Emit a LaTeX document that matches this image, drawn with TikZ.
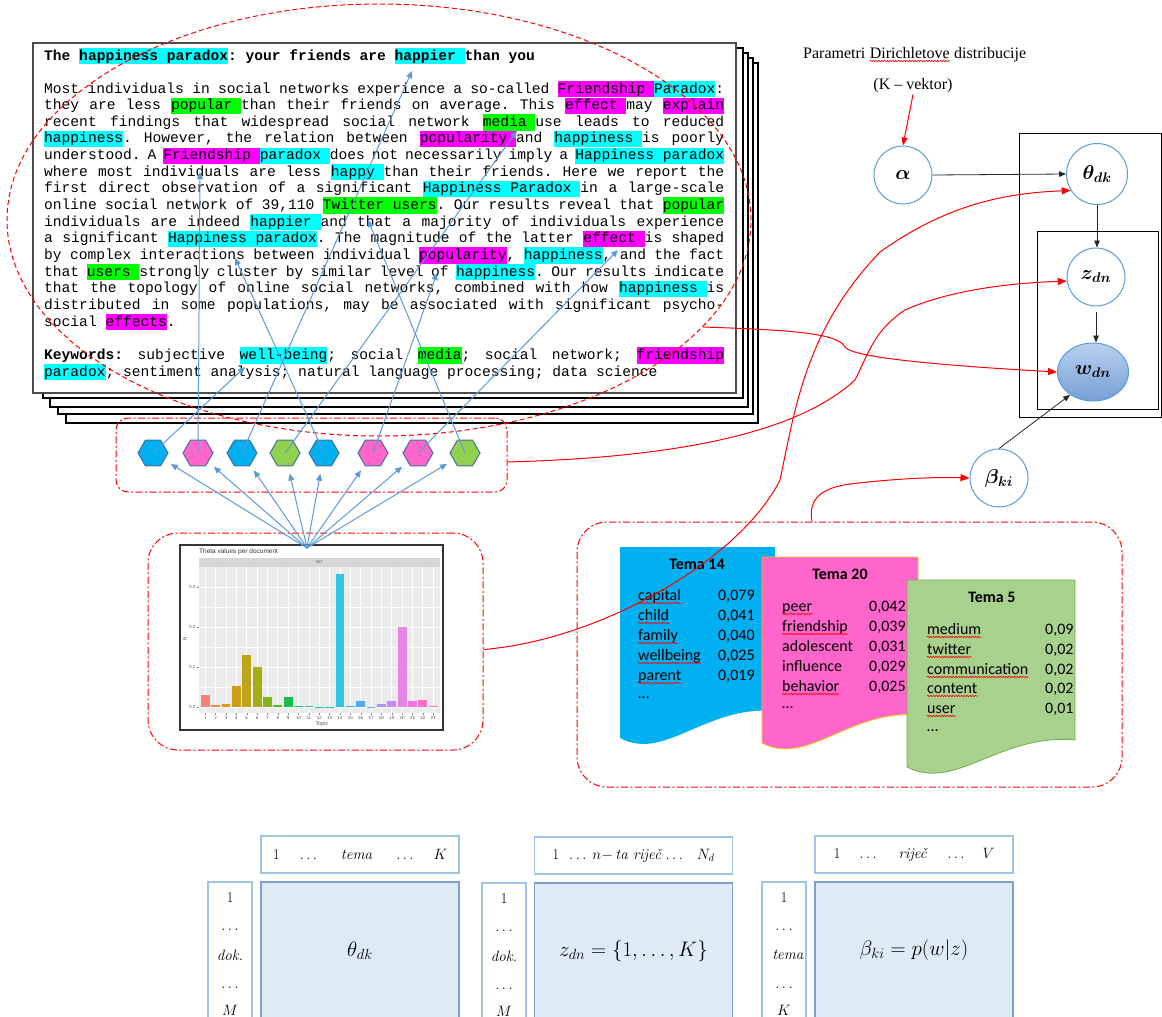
\RequirePackage{fix-cm}
\documentclass[tikz,border=0pt]{standalone}
\usepackage{fontspec}
\usepackage{amsmath,bm}
\usetikzlibrary{shapes.geometric,arrows.meta,decorations.pathmorphing}
\setmonofont{Liberation Mono}
\newfontfamily\carl{Carlito}
\newfontfamily\tms{Liberation Serif}
\newfontfamily\ars{Liberation Sans}
\definecolor{hcy}{HTML}{00FFFF}
\definecolor{hmg}{HTML}{FF00FF}
\definecolor{hgr}{HTML}{00FF00}
\definecolor{hexb}{HTML}{00B0F0}
\definecolor{hexp}{HTML}{FF66CC}
\definecolor{hexg}{HTML}{92D050}
\definecolor{hexe}{HTML}{41719C}
\definecolor{arb}{HTML}{5B9BD5}
\definecolor{t14}{HTML}{00B0F0}
\definecolor{t20}{HTML}{FF66CC}
\definecolor{t20e}{HTML}{FFC000}
\definecolor{t5}{HTML}{A9D18E}
\definecolor{t5e}{HTML}{70AD47}
\definecolor{mfill}{HTML}{DEEBF7}
\definecolor{medge}{HTML}{7F9FCF}
\definecolor{ledge}{HTML}{9DC3E6}
\definecolor{cbord}{HTML}{5B9BD5}
\definecolor{wtop}{HTML}{B8D0EE}
\definecolor{wbot}{HTML}{779FD6}
\definecolor{b1}{HTML}{F8766D}\definecolor{b2}{HTML}{ED813E}\definecolor{b3}{HTML}{DE8C00}
\definecolor{b4}{HTML}{CD9600}\definecolor{b5}{HTML}{B79F00}\definecolor{b6}{HTML}{9DA700}
\definecolor{b7}{HTML}{7CAE00}\definecolor{b8}{HTML}{49B500}\definecolor{b9}{HTML}{00BA38}
\definecolor{b10}{HTML}{00BE67}\definecolor{b11}{HTML}{00C08B}\definecolor{b12}{HTML}{00C1AA}
\definecolor{b13}{HTML}{00BFC4}\definecolor{b14}{HTML}{1FBFE6}\definecolor{b15}{HTML}{00B6EB}
\definecolor{b16}{HTML}{3FA6F5}\definecolor{b17}{HTML}{619CFF}\definecolor{b18}{HTML}{A58AFF}
\definecolor{b19}{HTML}{C77CFF}\definecolor{b20}{HTML}{E57CE6}\definecolor{b21}{HTML}{F564E3}
\definecolor{b22}{HTML}{FF61C3}\definecolor{b23}{HTML}{FF67A4}
\newcommand\hl[2]{\setbox0\hbox{#2}\rlap{\color{#1}\rule[-4.2pt]{\wd0}{16.3pt}}\box0}
\newcommand\jl[1]{\hbox to 680pt{\spaceskip=8.76pt plus 10pt minus 2pt\relax#1}}
\newcommand\trow[6]{\node[tw] (#1w) at (#2,#4) {#5};\node[tw] (#1n) at (#3,#4) {#6};}
\newcommand\spl[1]{\draw[spell] ([yshift=-3pt]#1.base west) -- ([yshift=-3pt]#1.base east);}
\tikzset{
  tl/.style={anchor=base west, inner sep=0, font=\fontsize{14.6}{16.65}\selectfont\ttfamily},
  tw/.style={anchor=base west, inner sep=0, font=\carl\fontsize{16}{19}\selectfont},
  ttl/.style={anchor=base, inner sep=0, font=\carl\bfseries\fontsize{16}{19}\selectfont},
  spell/.style={draw=red, line width=0.6pt, decorate, decoration={snake, amplitude=0.7pt, segment length=2.8pt}},
  hexa/.style={regular polygon, regular polygon sides=6, minimum size=30pt, draw=hexe, line width=1pt, inner sep=0},
  barr/.style={draw=arb, line width=1pt, -{Triangle[length=7pt,width=6pt]}},
  rarr/.style={draw=red, line width=1pt, -{Triangle[length=9pt,width=7pt]}},
  barrow/.style={draw=black!85, line width=0.8pt, -{Triangle[length=7pt,width=5.5pt]}},
  ddot/.style={draw=red, line width=1pt, dash pattern=on 7pt off 2.5pt on 2pt off 2.5pt, rounded corners=#1},
  pnode/.style={circle, draw=cbord, line width=1pt, fill=white, minimum size=58pt, inner sep=0, font=\fontsize{20}{24}\selectfont},
  hdr/.style={draw=ledge, line width=1.4pt, fill=white, minimum width=198pt, minimum height=37pt, inner sep=0, font=\fontsize{15}{18}\selectfont},
  mcol/.style={draw=ledge, line width=1.4pt, fill=white, minimum width=44pt, minimum height=137pt, inner sep=0},
  mmain/.style={draw=medge, line width=1.2pt, fill=mfill, minimum width=198pt, minimum height=137pt, inner sep=0, font=\fontsize{21}{25}\selectfont},
  ctx/.style={inner sep=0, font=\fontsize{15}{18}\selectfont},
  sm/.style={inner sep=0, font=\ars\fontsize{4.5}{5}\selectfont, text=black!65}
}
\begin{document}
\frenchspacing
\begin{tikzpicture}[x=1pt,y=-1pt]
\useasboundingbox (0,0) rectangle (1162,1017);
\clip (0,0) rectangle (1162,1017);
% ---------- stacked pages
\draw[black, line width=1.2pt, fill=white] (66,63) rectangle (758,423);
\draw[black, line width=1.2pt, fill=white] (58,58) rectangle (753,414);
\draw[black, line width=1.2pt, fill=white] (50,53) rectangle (748,407);
\draw[black, line width=1.2pt, fill=white] (43,48) rectangle (743,398);
\draw[black!70, line width=1.6pt, fill=white] (33,43) rectangle (736,393);
% ---------- text
\node[tl] (l0) at (44,60) {\bfseries The \hl{hcy}{happiness paradox}: your friends are \hl{hcy}{happier }than you};
\node[tl] (l1) at (44,93) {\jl{Most individuals in social networks experience a so-called \hl{hmg}{Friendship }\hl{hcy}{Paradox}:}};
\node[tl] (l2) at (44,109.65) {\jl{they are less \hl{hgr}{popular }than their friends on average. This \hl{hmg}{effect }may \hl{hmg}{explain}}};
\node[tl] (l3) at (44,126.3) {\jl{recent findings that widespread social network \hl{hgr}{media }use leads to reduced}};
\node[tl] (l4) at (44,142.95) {\jl{\hl{hcy}{happiness}. However, the relation between \hl{hmg}{popularity }and \hl{hcy}{happiness }is poorly}};
\node[tl] (l5) at (44,159.6) {\jl{understood. A \hl{hmg}{Friendship }\hl{hcy}{paradox }does not necessarily imply a \hl{hcy}{Happiness paradox}}};
\node[tl] (l6) at (44,176.25) {\jl{where most individuals are less \hl{hcy}{happy }than their friends. Here we report the}};
\node[tl] (l7) at (44,192.9) {\jl{first direct observation of a significant \hl{hcy}{Happiness Paradox }in a large-scale}};
\node[tl] (l8) at (44,209.55) {\jl{online social network of 39,110 \hl{hgr}{Twitter users}. Our results reveal that \hl{hgr}{popular}}};
\node[tl] (l9) at (44,226.2) {\jl{individuals are indeed \hl{hcy}{happier }and that a majority of individuals experience}};
\node[tl] (l10) at (44,242.85) {\jl{a significant \hl{hcy}{Happiness paradox}. The magnitude of the latter \hl{hmg}{effect }is shaped}};
\node[tl] (l11) at (44,259.5) {\jl{by complex interactions between individual \hl{hmg}{popularity}, \hl{hcy}{happiness}, and the fact}};
\node[tl] (l12) at (44,276.15) {\jl{that \hl{hgr}{users }strongly cluster by similar level of \hl{hcy}{happiness}. Our results indicate}};
\node[tl] (l13) at (44,292.8) {\jl{that the topology of online social networks, combined with how \hl{hcy}{happiness }is}};
\node[tl] (l14) at (44,309.45) {\jl{distributed in some populations, may be associated with significant psycho-}};
\node[tl] (l15) at (44,326.1) {social \hl{hmg}{effects}.};
\node[tl] (l16) at (44,359.4) {\jl{\textbf{Keywords:} subjective \hl{hcy}{well-being}; social \hl{hgr}{media}; social network; \hl{hmg}{friendship}}};
\node[tl] (l17) at (44,376.05) {\hl{hcy}{paradox}; sentiment analysis; natural language processing; data science};
% ---------- red dashed ellipse
\draw[red, line width=1pt, dash pattern=on 5pt off 3pt] (379,220) ellipse [x radius=372pt, y radius=216pt];
% ---------- hexagons
\node[ddot=12pt, minimum width=391pt, minimum height=74pt, inner sep=0] (hrect) at (311.5,455) {};
\foreach \n/\x/\c in {h1/153/hexb, h2/198/hexp, h3/242/hexb, h4/285/hexg, h5/324/hexb, h6/373/hexp, h7/418/hexp, h8/465/hexg}
  \node[hexa, fill=\c] (\n) at (\x,453) {};
\coordinate (t1) at (245,367);
\coordinate (t2) at (200,172);
\coordinate (t3) at (412,71);
\coordinate (t4) at (517,131);
\coordinate (t5) at (235,258);
\coordinate (t6) at (437,273);
\coordinate (t7) at (618,250);
\coordinate (t8) at (368,220);
\draw[barr] (h1.center) -- (t1);
\draw[barr] (h2.center) -- (t2);
\draw[barr] (h3.center) -- (t3);
\draw[barr] (h4.center) -- (t4);
\draw[barr] (h5.center) -- (t5);
\draw[barr] (h6.center) -- (t6);
\draw[barr] (h7.center) -- (t7);
\draw[barr] (h8.center) -- (t8);
% ---------- chart
\node[ddot=30pt, minimum width=335pt, minimum height=217pt, inner sep=0] (chrt) at (315.5,641.5) {};
\node[draw=black!80, line width=1.3pt, fill=white, minimum width=263pt, minimum height=185pt, inner sep=0] (chart) at (311.5,637.5) {};
\node[anchor=west, inner sep=0, font=\ars\fontsize{6.5}{7}\selectfont, text=black!80] (cttl) at (199,551.5) {Theta values per document};
\fill[black!16] (199,557.5) rectangle (440,566.5);
\node[sm, font=\ars\fontsize{4}{5}\selectfont] (cstrip) at (319.5,562) {987};
\fill[black!8] (199,567) rectangle (440,713);
\foreach \yy in {607,647,687} \draw[white, line width=0.3pt] (199,\yy) -- (440,\yy);
\foreach \yy in {587,627,667,707} \draw[white, line width=0.8pt] (199,\yy) -- (440,\yy);
\foreach \i in {1,...,23} \draw[white, line width=0.8pt] ({205.3+(\i-1)*10.36},567) -- ({205.3+(\i-1)*10.36},713);
\foreach \v [count=\i] in {0.029,0.006,0.007,0.052,0.131,0.100,0.026,0.004,0.024,0.003,0.002,0.001,0.001,0.333,0.002,0.015,0.001,0.007,0.014,0.199,0.016,0.018,0.003}
  \fill[b\i, fill opacity=0.9] ({205.3+(\i-1)*10.36-4.4},707) rectangle ({205.3+(\i-1)*10.36+4.4},{707-\v*400});
\foreach \yy/\lab [count=\k] in {587/0.3,627/0.2,667/0.1,707/0.0} {
  \node[sm, anchor=east] (yl\k) at (195.5,\yy) {\lab};
  \draw[black!50, line width=0.4pt] (196.5,\yy) -- (199,\yy);
}
\foreach \i in {1,...,23} {
  \node[sm] (xl\i) at ({205.3+(\i-1)*10.36},717.5) {\i};
  \draw[black!50, line width=0.4pt] ({205.3+(\i-1)*10.36},713) -- ({205.3+(\i-1)*10.36},715);
}
\node[sm, font=\ars\fontsize{5.5}{6}\selectfont] (xtopic) at (322,724) {Topic};
\node[sm, font=\ars\fontsize{5.5}{6}\selectfont, rotate=90] (ytheta) at (185,639) {θ};
\coordinate (ap) at (307,548);
\foreach \n in {h1,h2,h3,h4,h5,h6,h7,h8} \draw[barr, shorten >=21pt] (ap) -- (\n.center);
% ---------- topic cards
\node[ddot=30pt, minimum width=545pt, minimum height=265pt, inner sep=0] (temar) at (849.5,654.5) {};
\fill[t14] (620,547) -- (775,547) -- (775,711) .. controls (705,705) and (665,762) .. (620,738) -- cycle;
\filldraw[fill=t20, draw=t20e, line width=0.8pt] (762,557) -- (918,557) -- (918,715) .. controls (850,709) and (807,767) .. (762,743) -- cycle;
\filldraw[fill=t5, draw=t5e, line width=0.8pt] (907,580) -- (1075,580) -- (1075,740) .. controls (1000,733) and (955,792) .. (907,767) -- cycle;
\node[ttl] (tt14) at (697,569) {Tema 14};
\node[ttl] (tt20) at (840,579) {Tema 20};
\node[ttl] (tt5) at (992,602) {Tema 5};
\trow{a1}{638}{718}{600}{capital}{0,079}
\trow{a2}{638}{718}{620}{child}{0,041}
\trow{a3}{638}{718}{640}{family}{0,040}
\trow{a4}{638}{718}{660}{wellbeing}{0,025}
\trow{a5}{638}{718}{680}{parent}{0,019}
\node[tw] (a6) at (638,698) {…};
\trow{p1}{782}{869}{611}{peer}{0,042}
\trow{p2}{782}{869}{631}{friendship}{0,039}
\trow{p3}{782}{869}{651}{adolescent}{0,031}
\trow{p4}{782}{869}{671}{influence}{0,029}
\trow{p5}{782}{869}{691}{behavior}{0,025}
\node[tw] (p6) at (782,708) {…};
\trow{g1}{927}{1045}{634}{medium}{0,09}
\trow{g2}{927}{1045}{654}{twitter}{0,02}
\trow{g3}{927}{1045}{674}{communication}{0,02}
\trow{g4}{927}{1045}{693}{content}{0,02}
\trow{g5}{927}{1045}{713}{user}{0,01}
\node[tw] (g6) at (927,731) {…};
\spl{a1w}\spl{a2w}\spl{a3w}\spl{a4w}\spl{a5w}
\spl{p1w}\spl{p2w}\spl{p5w}
\spl{g1w}\spl{g2w}\spl{g3w}\spl{g4w}\spl{g5w}
% ---------- plate model
\node[anchor=base west, inner sep=0, font=\tms\fontsize{16}{18}\selectfont] (pd1) at (803,58) {Parametri};
\node[anchor=base west, inner sep=0, font=\tms\fontsize{16}{18}\selectfont] (pd2) at ([xshift=4pt]pd1.base east) {Dirichletove};
\node[anchor=base west, inner sep=0, font=\tms\fontsize{16}{18}\selectfont] (pd3) at ([xshift=4pt]pd2.base east) {distribucije};
\spl{pd2}
\node[inner sep=1pt, font=\tms\fontsize{16}{18}\selectfont] (kv) at (913,86) {(K – vektor)};
\node[draw=black, line width=1pt, minimum width=142pt, minimum height=284pt, inner sep=0] (pl1) at (1090,275) {};
\node[draw=black, line width=1pt, minimum width=121pt, minimum height=178pt, inner sep=0] (pl2) at (1097.5,320) {};
\node[pnode] (al) at (903,175) {$\bm{\alpha}$};
\node[pnode, minimum size=61pt] (th) at (1097,174) {$\bm{\theta_{dk}}$};
\node[pnode] (z) at (1096,277) {$\bm{z_{dn}}$};
\node[ellipse, draw=cbord, line width=1pt, top color=wtop, bottom color=wbot, minimum width=71pt, minimum height=58pt, inner sep=0, font=\fontsize{20}{24}\selectfont] (w) at (1093,372) {$\bm{w_{dn}}$};
\node[pnode] (b) at (999,478) {$\bm{\beta_{ki}}$};
\draw[barrow] (al.east) -- (th.west);
\draw[barrow] (th.south) -- (th.south |- z.north);
\draw[barrow, shorten <=5pt] (z.south) -- (z.south |- w.north);
\draw[barrow] (b.north) -- (w.225);
% ---------- red connectors
\draw[rarr, -{Triangle[length=8pt,width=6pt]}] (kv.south) -- (al.north);
\draw[rarr] ([yshift=-8pt]chrt.east) .. controls (600,640) and (740,560) .. (780,480) .. controls (795,410) and (805,330) .. (880,252) .. controls (950,202) and (1010,193) .. (th.212);
\draw[rarr] ([yshift=-7pt]hrect.east) .. controls (650,458) and (790,440) .. (855,380) .. controls (870,350) and (875,330) .. (905,310) .. controls (950,290) and (1010,283) .. (z.188);
\coordinate (c3) at (703,327);
\draw[rarr] (c3) .. controls (790,330) and (838,333) .. (845,347) .. controls (852,358) and (950,366) .. (w.west);
\draw[rarr] ([xshift=-37.5pt]temar.north) .. controls (808,500) and (820,488) .. (850,484) .. controls (900,478) and (940,477) .. (b.west);
% ---------- matrices
\node[hdr] (m1h) at (360,854.5) {1\hspace{20pt}$\ldots$\hspace{24pt}\textit{tema}\hspace{24pt}$\ldots$\hspace{20pt}$K$};
\node[mcol] (m1c) at (230,950.5) {};
\node[mmain] (m1) at (360,950.5) {$\theta_{dk}$};
\node[hdr] (m2h) at (633.5,855.5) {1\hspace{10pt}$\ldots$\hspace{6pt}$n-$\,\textit{ta riječ}\hspace{3pt}$\ldots$\hspace{14pt}$N_d$};
\node[mcol] (m2c) at (504,951.5) {};
\node[mmain] (m2) at (633.5,951.5) {$z_{dn}=\{1,\ldots,K\}$};
\node[hdr] (m3h) at (914,854.5) {1\hspace{19pt}$\ldots$\hspace{22pt}\textit{riječ}\hspace{19pt}$\ldots$\hspace{18pt}$V$};
\node[mcol] (m3c) at (784,950.5) {};
\node[mmain] (m3) at (914,950.5) {$\beta_{ki}=p(w|z)$};
\node[ctx] (m1c1) at (230,898) {1};
\node[ctx] (m1c2) at (230,930) {$\ldots$};
\node[ctx] (m1c3) at (230,955) {\textit{dok.}};
\node[ctx] (m1c4) at (230,988) {$\ldots$};
\node[ctx] (m1c5) at (230,1010) {$M$};
\node[ctx] (m2c1) at (504,899) {1};
\node[ctx] (m2c2) at (504,931) {$\ldots$};
\node[ctx] (m2c3) at (504,956) {\textit{dok.}};
\node[ctx] (m2c4) at (504,989) {$\ldots$};
\node[ctx] (m2c5) at (504,1011) {$M$};
\node[ctx] (m3c1) at (784,898) {1};
\node[ctx] (m3c2) at (784,930) {$\ldots$};
\node[ctx] (m3c3) at (788,955) {\textit{tema}};
\node[ctx] (m3c4) at (784,988) {$\ldots$};
\node[ctx] (m3c5) at (784,1010) {$K$};
\end{tikzpicture}
\end{document}
